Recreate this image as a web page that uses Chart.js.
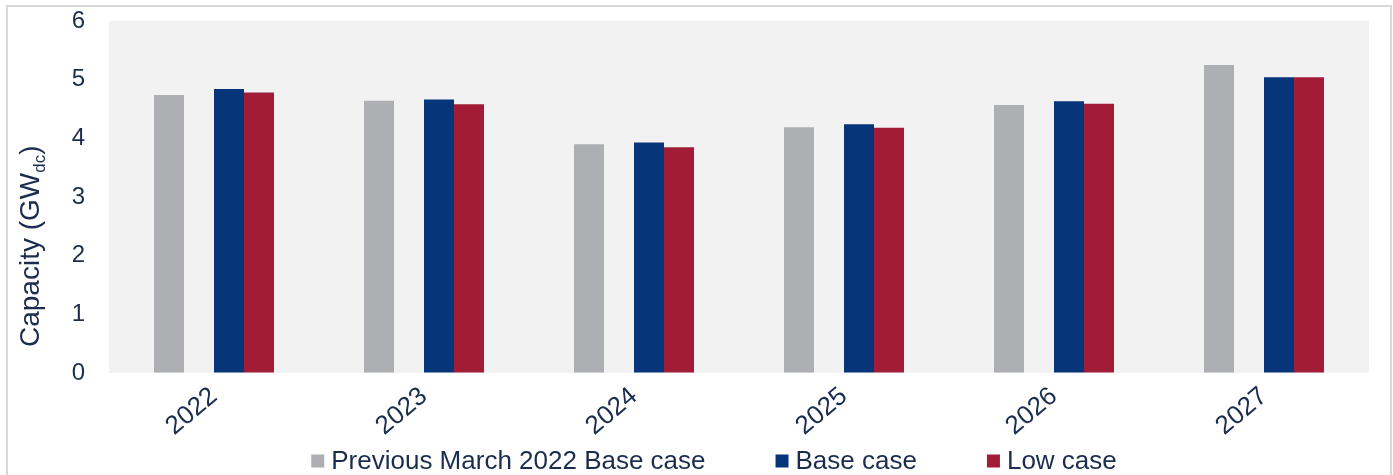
<!DOCTYPE html>
<html>
<head>
<meta charset="utf-8">
<script src="https://cdn.jsdelivr.net/npm/chart.js@4.4.1/dist/chart.umd.min.js"></script>
<style>
  html, body { margin: 0; padding: 0; background: #fff; overflow: hidden; }
  #frame {
    position: absolute; left: 6px; top: 5px; width: 1382px; height: 490px;
    border: 2px solid #d8d8d8;
  }
  #graph { position: absolute; left: 0; top: 0; }
</style>
</head>
<body>
<div id="frame"></div>
<canvas id="graph" width="1393" height="475"></canvas>
<script>
const years = ['2022', '2023', '2024', '2025', '2026', '2027'];
const previousBase = [4.74, 4.64, 3.90, 4.19, 4.57, 5.25];
const baseCase = [4.84, 4.66, 3.93, 4.24, 4.63, 5.04];
const lowCase = [4.78, 4.58, 3.85, 4.18, 4.59, 5.04];
const yTicks = [0, 1, 2, 3, 4, 5, 6];

const textColor = '#1b2d4f';
const fontFamily = '"Liberation Sans", Arial, sans-serif';

// light grey fill behind the bars
const plotBackground = {
  id: 'plotBackground',
  beforeDatasetsDraw(chart) {
    const { ctx, chartArea } = chart;
    ctx.save();
    ctx.fillStyle = '#f2f2f2';
    ctx.fillRect(chartArea.left, chartArea.top, chartArea.right - chartArea.left, chartArea.bottom - chartArea.top);
    ctx.restore();
  }
};

// y axis title with a subscript "dc"
const yTitle = {
  id: 'yTitle',
  afterDraw(chart) {
    const { ctx } = chart;
    ctx.save();
    ctx.translate(39, 347);
    ctx.rotate(-Math.PI / 2);
    ctx.fillStyle = textColor;
    ctx.textAlign = 'left';
    ctx.textBaseline = 'alphabetic';
    ctx.font = '28px ' + fontFamily;
    const main = 'Capacity (GW';
    ctx.fillText(main, 0, 0);
    let x = ctx.measureText(main).width;
    ctx.font = '17px ' + fontFamily;
    ctx.fillText('dc', x, 6);
    x += ctx.measureText('dc').width;
    ctx.font = '28px ' + fontFamily;
    ctx.fillText(')', x, 0);
    ctx.restore();
  }
};

// legend row under the axis, wide gaps between entries
const bottomLegend = {
  id: 'bottomLegend',
  afterDraw(chart) {
    const { ctx } = chart;
    const items = chart.data.datasets.filter(ds => ds.label !== '');
    const box = 13, gap = 7, spacing = 70;
    ctx.save();
    ctx.font = '26px ' + fontFamily;
    ctx.textBaseline = 'middle';
    ctx.textAlign = 'left';
    const widths = items.map(ds => box + gap + ctx.measureText(ds.label).width);
    const total = widths.reduce((a, b) => a + b, 0) + spacing * (items.length - 1);
    let x = 714 - total / 2;
    const y = 461;
    items.forEach((ds, i) => {
      ctx.fillStyle = ds.backgroundColor;
      ctx.fillRect(x, y - box / 2, box, box);
      ctx.fillStyle = textColor;
      ctx.fillText(ds.label, x + box + gap, y + 1);
      x += widths[i] + spacing;
    });
    ctx.restore();
  }
};

const config = {
  type: 'bar',
  data: {
    labels: years,
    datasets: [
      {
        label: 'Previous March 2022 Base case',
        backgroundColor: '#aeafb2',
        data: previousBase
      }, {
        // empty slot between the old and new forecasts
        label: '',
        backgroundColor: 'rgba(0,0,0,0)',
        data: years.map(() => null)
      }, {
        label: 'Base case',
        backgroundColor: '#07357a',
        data: baseCase
      }, {
        label: 'Low case',
        backgroundColor: '#a21c38',
        data: lowCase
      }
    ]
  },
  options: {
    responsive: false,
    animation: false,
    devicePixelRatio: 1,
    categoryPercentage: 0.5714,
    barPercentage: 1,
    layout: { padding: { left: 0, right: 24, top: 21, bottom: 37 } },
    plugins: {
      tooltip: { enabled: false },
      legend: { display: false }
    },
    scales: {
      x: {
        grid: { display: false },
        border: { display: false },
        ticks: {
          color: textColor,
          font: { family: fontFamily, size: 26 },
          minRotation: 40,
          maxRotation: 40,
          padding: 0
        },
        afterFit(scale) { scale.height = 65; }
      },
      y: {
        min: 0,
        max: 6,
        // invisible tick marks push the labels away from the plot
        grid: {
          display: true,
          drawOnChartArea: false,
          drawTicks: true,
          tickLength: 24,
          color: 'rgba(0,0,0,0)'
        },
        border: { display: false },
        afterBuildTicks(scale) { scale.ticks = yTicks.map(v => ({ value: v })); },
        ticks: {
          color: textColor,
          font: { family: fontFamily, size: 24 },
          padding: 0
        },
        afterFit(scale) { scale.width = 109; }
      }
    }
  },
  plugins: [plotBackground, yTitle, bottomLegend]
};

new Chart(document.getElementById('graph').getContext('2d'), config);
</script>
</body>
</html>
